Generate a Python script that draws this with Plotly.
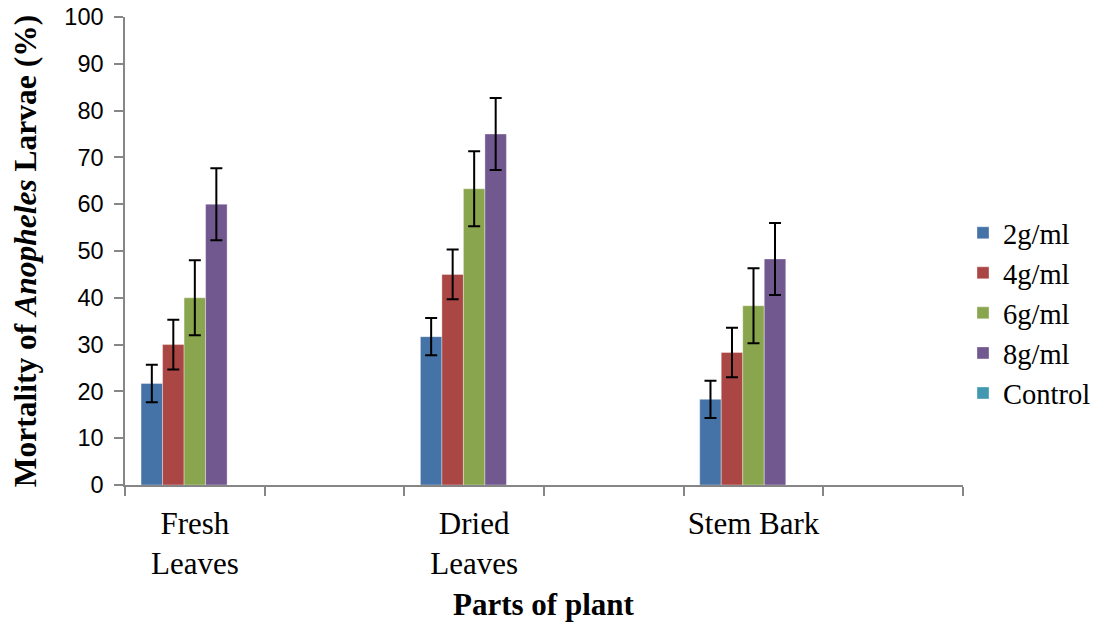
import plotly.graph_objects as go

categories = ["Fresh<br>Leaves", "Dried<br>Leaves", "Stem Bark"]
series_names = ["2g/ml", "4g/ml", "6g/ml", "8g/ml", "Control"]
values_2g = [21.7, 31.7, 18.3]
values_4g = [30.0, 45.0, 28.3]
values_6g = [40.0, 63.3, 38.3]
values_8g = [60.0, 75.0, 48.3]
values_control = [0, 0, 0]
err_2g = [4.0, 4.0, 4.0]
err_4g = [5.3, 5.3, 5.3]
err_6g = [8.0, 8.0, 8.0]
err_8g = [7.7, 7.7, 7.7]
err_control = [0, 0, 0]
y_ticks = [0, 10, 20, 30, 40, 50, 60, 70, 80, 90, 100]

colors = ["#4572A7", "#AA4643", "#89A54E", "#71588F", "#4198AF"]
all_values = [values_2g, values_4g, values_6g, values_8g, values_control]
all_errs = [err_2g, err_4g, err_6g, err_8g, err_control]

# category axis with blank spacer slots between the plant parts
cat_array = []
for i, c in enumerate(categories):
    cat_array.append(c)
    cat_array.append(" " * (i + 1))

fig = go.Figure()
for name, vals, errs, col in zip(series_names, all_values, all_errs, colors):
    fig.add_trace(go.Bar(
        x=categories, y=vals, name=name,
        marker=dict(color=col, line=dict(color="rgba(255,255,255,0.6)", width=0.6)),
        error_y=dict(type="data", array=errs, visible=(name != "Control"),
                     color="black", thickness=2, width=6),
    ))

fig.update_layout(
    width=1094, height=623,
    margin=dict(l=125, r=131, t=17, b=138, autoexpand=False),
    paper_bgcolor="white", plot_bgcolor="white",
    barmode="group", bargap=0.23, bargroupgap=0,
    showlegend=True,
    legend=dict(x=1.0, xanchor="left", y=0.367, yanchor="middle",
                font=dict(family="Liberation Serif", size=28.5, color="black"),
                bgcolor="rgba(0,0,0,0)", itemwidth=30),
    xaxis=dict(type="category", categoryorder="array", categoryarray=cat_array,
               range=[-0.5, len(cat_array) - 0.5], tickangle=0,
               tickson="boundaries", ticks="outside", ticklen=9, tickcolor="#868686",
               tickwidth=1.5, showline=True, linecolor="#868686", linewidth=1.5,
               showgrid=False, ticklabelstandoff=10,
               tickfont=dict(family="Liberation Serif", size=31, color="black")),
    yaxis=dict(range=[0, 100], tickvals=y_ticks, ticks="outside", ticklen=9,
               tickcolor="#868686", tickwidth=1.5, showline=True, linecolor="#868686",
               linewidth=1.5, showgrid=False, zeroline=False, ticklabelstandoff=6,
               ticklabeloverflow="allow",
               tickfont=dict(family="Liberation Sans", size=23.5, color="black")),
    annotations=[
        dict(text="<b>Mortality of <i>Anopheles</i> Larvae (%)</b>", textangle=-90,
             xref="paper", yref="paper", x=-0.119, y=0.5, xanchor="center", yanchor="middle",
             showarrow=False, font=dict(family="Liberation Serif", size=31.5, color="black")),
        dict(text="<b>Parts of plant</b>", xref="paper", yref="paper",
             x=0.5, y=-0.256, xanchor="center", yanchor="middle", showarrow=False,
             font=dict(family="Liberation Serif", size=31, color="black")),
    ],
)

fig.write_html("out.html", config={"displayModeBar": False},
               post_script="document.body.style.margin='0px';")
